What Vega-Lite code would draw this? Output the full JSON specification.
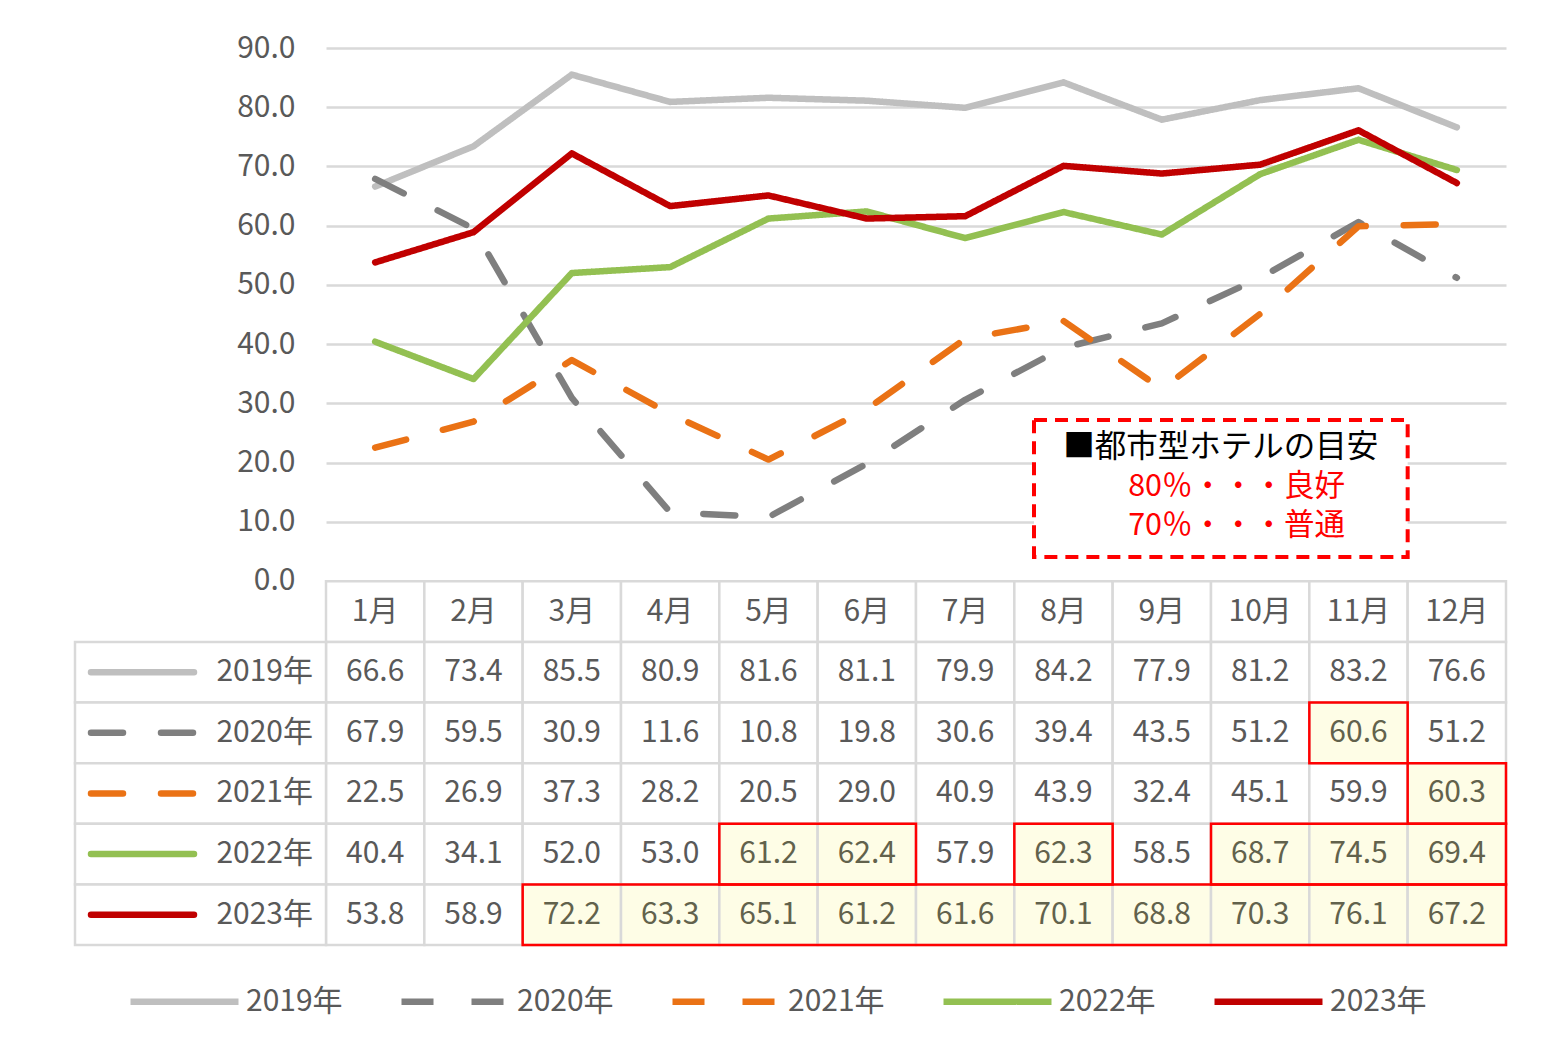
{
  "$schema": "https://vega.github.io/schema/vega-lite/v6.json",
  "width": 1180,
  "height": 897,
  "autosize": {"type": "none"},
  "padding": {"left": 326, "top": 48, "right": 39, "bottom": 109},
  "config": {"font": "Noto Sans CJK JP", "view": {"stroke": null}},
  "datasets": {
    "d": [
      {"s": "2019年", "m": "1月", "v": 66.6, "hl": false}, {"s": "2019年", "m": "2月", "v": 73.4, "hl": false}, {"s": "2019年", "m": "3月", "v": 85.5, "hl": false}, {"s": "2019年", "m": "4月", "v": 80.9, "hl": false}, {"s": "2019年", "m": "5月", "v": 81.6, "hl": false}, {"s": "2019年", "m": "6月", "v": 81.1, "hl": false}, {"s": "2019年", "m": "7月", "v": 79.9, "hl": false}, {"s": "2019年", "m": "8月", "v": 84.2, "hl": false}, {"s": "2019年", "m": "9月", "v": 77.9, "hl": false}, {"s": "2019年", "m": "10月", "v": 81.2, "hl": false}, {"s": "2019年", "m": "11月", "v": 83.2, "hl": false}, {"s": "2019年", "m": "12月", "v": 76.6, "hl": false},
      {"s": "2020年", "m": "1月", "v": 67.9, "hl": false}, {"s": "2020年", "m": "2月", "v": 59.5, "hl": false}, {"s": "2020年", "m": "3月", "v": 30.9, "hl": false}, {"s": "2020年", "m": "4月", "v": 11.6, "hl": false}, {"s": "2020年", "m": "5月", "v": 10.8, "hl": false}, {"s": "2020年", "m": "6月", "v": 19.8, "hl": false}, {"s": "2020年", "m": "7月", "v": 30.6, "hl": false}, {"s": "2020年", "m": "8月", "v": 39.4, "hl": false}, {"s": "2020年", "m": "9月", "v": 43.5, "hl": false}, {"s": "2020年", "m": "10月", "v": 51.2, "hl": false}, {"s": "2020年", "m": "11月", "v": 60.6, "hl": true}, {"s": "2020年", "m": "12月", "v": 51.2, "hl": false},
      {"s": "2021年", "m": "1月", "v": 22.5, "hl": false}, {"s": "2021年", "m": "2月", "v": 26.9, "hl": false}, {"s": "2021年", "m": "3月", "v": 37.3, "hl": false}, {"s": "2021年", "m": "4月", "v": 28.2, "hl": false}, {"s": "2021年", "m": "5月", "v": 20.5, "hl": false}, {"s": "2021年", "m": "6月", "v": 29.0, "hl": false}, {"s": "2021年", "m": "7月", "v": 40.9, "hl": false}, {"s": "2021年", "m": "8月", "v": 43.9, "hl": false}, {"s": "2021年", "m": "9月", "v": 32.4, "hl": false}, {"s": "2021年", "m": "10月", "v": 45.1, "hl": false}, {"s": "2021年", "m": "11月", "v": 59.9, "hl": false}, {"s": "2021年", "m": "12月", "v": 60.3, "hl": true},
      {"s": "2022年", "m": "1月", "v": 40.4, "hl": false}, {"s": "2022年", "m": "2月", "v": 34.1, "hl": false}, {"s": "2022年", "m": "3月", "v": 52.0, "hl": false}, {"s": "2022年", "m": "4月", "v": 53.0, "hl": false}, {"s": "2022年", "m": "5月", "v": 61.2, "hl": true}, {"s": "2022年", "m": "6月", "v": 62.4, "hl": true}, {"s": "2022年", "m": "7月", "v": 57.9, "hl": false}, {"s": "2022年", "m": "8月", "v": 62.3, "hl": true}, {"s": "2022年", "m": "9月", "v": 58.5, "hl": false}, {"s": "2022年", "m": "10月", "v": 68.7, "hl": true}, {"s": "2022年", "m": "11月", "v": 74.5, "hl": true}, {"s": "2022年", "m": "12月", "v": 69.4, "hl": true},
      {"s": "2023年", "m": "1月", "v": 53.8, "hl": false}, {"s": "2023年", "m": "2月", "v": 58.9, "hl": false}, {"s": "2023年", "m": "3月", "v": 72.2, "hl": true}, {"s": "2023年", "m": "4月", "v": 63.3, "hl": true}, {"s": "2023年", "m": "5月", "v": 65.1, "hl": true}, {"s": "2023年", "m": "6月", "v": 61.2, "hl": true}, {"s": "2023年", "m": "7月", "v": 61.6, "hl": true}, {"s": "2023年", "m": "8月", "v": 70.1, "hl": true}, {"s": "2023年", "m": "9月", "v": 68.8, "hl": true}, {"s": "2023年", "m": "10月", "v": 70.3, "hl": true}, {"s": "2023年", "m": "11月", "v": 76.1, "hl": true}, {"s": "2023年", "m": "12月", "v": 67.2, "hl": true}
    ],
    "hdr": [
      {"r": "hdr", "m": "1月"}, {"r": "hdr", "m": "2月"}, {"r": "hdr", "m": "3月"}, {"r": "hdr", "m": "4月"}, {"r": "hdr", "m": "5月"}, {"r": "hdr", "m": "6月"}, {"r": "hdr", "m": "7月"}, {"r": "hdr", "m": "8月"}, {"r": "hdr", "m": "9月"}, {"r": "hdr", "m": "10月"}, {"r": "hdr", "m": "11月"}, {"r": "hdr", "m": "12月"}
    ],
    "ser": [{"s": "2019年"}, {"s": "2020年"}, {"s": "2021年"}, {"s": "2022年"}, {"s": "2023年"}],
    "box": [
      {"s": "2020年", "a": "11月", "b": "11月"},
      {"s": "2021年", "a": "12月", "b": "12月"},
      {"s": "2022年", "a": "5月", "b": "6月"},
      {"s": "2022年", "a": "8月", "b": "8月"},
      {"s": "2022年", "a": "10月", "b": "12月"},
      {"s": "2023年", "a": "3月", "b": "12月"}
    ]
  },
  "layer": [
    {
      "layer": [
        {
          "data": {"name": "d"},
          "mark": {"type": "line", "strokeWidth": 6.5, "strokeCap": "round", "strokeJoin": "round"},
          "encoding": {
            "x": {"field": "m", "type": "ordinal", "bandPosition": 0.5, "axis": null,
                  "scale": {"type": "band", "domain": ["1月","2月","3月","4月","5月","6月","7月","8月","9月","10月","11月","12月"], "paddingInner": 0, "paddingOuter": 0}},
            "y": {"field": "v", "type": "quantitative",
                  "scale": {"type": "linear", "domain": [-61.47, 90], "nice": false, "zero": false},
                  "axis": {"values": [0,10,20,30,40,50,60,70,80,90], "format": ".1f", "grid": true, "gridColor": "#d9d9d9", "gridWidth": 2.5, "domain": false, "ticks": false, "labelFontSize": 30, "labelColor": "#595959", "labelPadding": 31, "title": null, "labelFont": "Noto Sans CJK JP"}},
            "color": {"field": "s", "type": "nominal",
                      "scale": {"domain": ["2019年","2020年","2021年","2022年","2023年"], "range": ["#bfbfbf","#7f7f7f","#ea7215","#93c052","#c00000"]},
                      "legend": {"orient": "none", "direction": "horizontal", "legendX": -199, "legendY": 896, "title": null, "symbolType": "stroke", "symbolSize": 11664, "symbolStrokeWidth": 6.5, "labelFontSize": 30, "labelColor": "#595959", "labelFont": "Noto Sans CJK JP", "labelOffset": 4, "columnPadding": 45}},
            "strokeDash": {"field": "s", "type": "nominal",
                           "scale": {"domain": ["2019年","2020年","2021年","2022年","2023年"], "range": [[1,0],[32,38],[32,38],[1,0],[1,0]]},
                           "legend": {"orient": "none", "direction": "horizontal", "legendX": -199, "legendY": 896, "title": null, "symbolType": "stroke", "symbolSize": 11664, "symbolStrokeWidth": 6.5, "labelFontSize": 30, "labelColor": "#595959", "labelFont": "Noto Sans CJK JP", "labelOffset": 4, "columnPadding": 45}}
          }
        },
        {
          "data": {"values": [{}]},
          "mark": {"type": "rect", "fill": "white", "stroke": "#ff0000", "strokeWidth": 4, "strokeDash": [13, 8]},
          "encoding": {
            "x": {"datum": "8月", "bandPosition": 0.2},
            "x2": {"datum": "12月", "bandPosition": 0},
            "y": {"datum": 27.19, "type": "quantitative"},
            "y2": {"datum": 4.05}
          }
        },
        {
          "data": {"values": [{"t": "■都市型ホテルの目安"}]},
          "mark": {"type": "text", "fontSize": 31.5, "color": "black", "align": "center", "baseline": "middle"},
          "encoding": {
            "x": {"datum": "10月", "bandPosition": 0.1},
            "y": {"datum": 22.46, "type": "quantitative"},
            "text": {"field": "t"}
          }
        },
        {
          "data": {"values": [{"t": "80％・・・良好"}]},
          "mark": {"type": "text", "fontSize": 30.5, "color": "#ff0000", "align": "center", "baseline": "middle"},
          "encoding": {
            "x": {"datum": "10月", "bandPosition": 0.26},
            "y": {"datum": 15.87, "type": "quantitative"},
            "text": {"field": "t"}
          }
        },
        {
          "data": {"values": [{"t": "70％・・・普通"}]},
          "mark": {"type": "text", "fontSize": 30.5, "color": "#ff0000", "align": "center", "baseline": "middle"},
          "encoding": {
            "x": {"datum": "10月", "bandPosition": 0.26},
            "y": {"datum": 9.29, "type": "quantitative"},
            "text": {"field": "t"}
          }
        }
      ]
    },
    {
      "layer": [
        {
          "data": {"name": "hdr"},
          "mark": {"type": "rect", "fill": "white", "stroke": "#d9d9d9", "strokeWidth": 2.5},
          "encoding": {
            "x": {"field": "m", "type": "ordinal"},
            "y": {"field": "r", "type": "ordinal", "axis": null,
                  "scale": {"type": "band", "domain": ["_1","_2","_3","_4","_5","_6","_7","_8","hdr","2019年","2020年","2021年","2022年","2023年"], "paddingInner": 0, "paddingOuter": 0.4, "align": 1}}
          }
        },
        {
          "data": {"name": "d"},
          "mark": {"type": "rect", "stroke": "#d9d9d9", "strokeWidth": 2.5},
          "encoding": {
            "x": {"field": "m", "type": "ordinal"},
            "y": {"field": "s", "type": "ordinal", "axis": null},
            "fill": {"condition": {"test": "datum.hl", "value": "#fefde6"}, "value": "white"}
          }
        },
        {
          "data": {"name": "ser"},
          "mark": {"type": "rect", "fill": "white", "stroke": "#d9d9d9", "strokeWidth": 2.5, "xOffset": -251},
          "encoding": {
            "x": {"datum": "1月", "bandPosition": 0},
            "x2": {"datum": "1月", "bandPosition": 0},
            "y": {"field": "s", "type": "ordinal", "axis": null}
          }
        },
        {
          "data": {"name": "ser"},
          "mark": {"type": "rule", "strokeWidth": 6.5, "strokeCap": "round", "xOffset": -235, "x2Offset": -132},
          "encoding": {
            "x": {"datum": "1月", "bandPosition": 0},
            "x2": {"datum": "1月", "bandPosition": 0},
            "y": {"field": "s", "type": "ordinal", "axis": null, "bandPosition": 0.5},
            "color": {"field": "s", "type": "nominal"},
            "strokeDash": {"field": "s", "type": "nominal"}
          }
        },
        {
          "data": {"name": "ser"},
          "mark": {"type": "text", "fontSize": 30, "color": "#595959", "align": "right", "baseline": "middle", "dx": -13},
          "encoding": {
            "x": {"datum": "1月", "bandPosition": 0},
            "y": {"field": "s", "type": "ordinal", "axis": null, "bandPosition": 0.5},
            "text": {"field": "s"}
          }
        },
        {
          "data": {"name": "hdr"},
          "mark": {"type": "text", "fontSize": 30, "color": "#595959", "align": "center", "baseline": "middle"},
          "encoding": {
            "x": {"field": "m", "type": "ordinal", "bandPosition": 0.5},
            "y": {"field": "r", "type": "ordinal", "axis": null, "bandPosition": 0.5},
            "text": {"field": "m"}
          }
        },
        {
          "data": {"name": "d"},
          "mark": {"type": "text", "fontSize": 30, "align": "center", "baseline": "middle"},
          "encoding": {
            "x": {"field": "m", "type": "ordinal", "bandPosition": 0.5},
            "y": {"field": "s", "type": "ordinal", "axis": null, "bandPosition": 0.5},
            "text": {"field": "v", "type": "quantitative", "format": ".1f"},
            "color": {"condition": {"test": "datum.hl", "value": "#62624c"}, "value": "#595959"}
          }
        },
        {
          "data": {"name": "box"},
          "mark": {"type": "rect", "fill": null, "fillOpacity": 0, "stroke": "#ff0000", "strokeWidth": 2.5},
          "encoding": {
            "x": {"field": "a", "type": "ordinal", "bandPosition": 0},
            "x2": {"field": "b", "bandPosition": 1},
            "y": {"field": "s", "type": "ordinal", "axis": null}
          }
        }
      ]
    }
  ],
  "resolve": {"scale": {"y": "independent"}}
}
